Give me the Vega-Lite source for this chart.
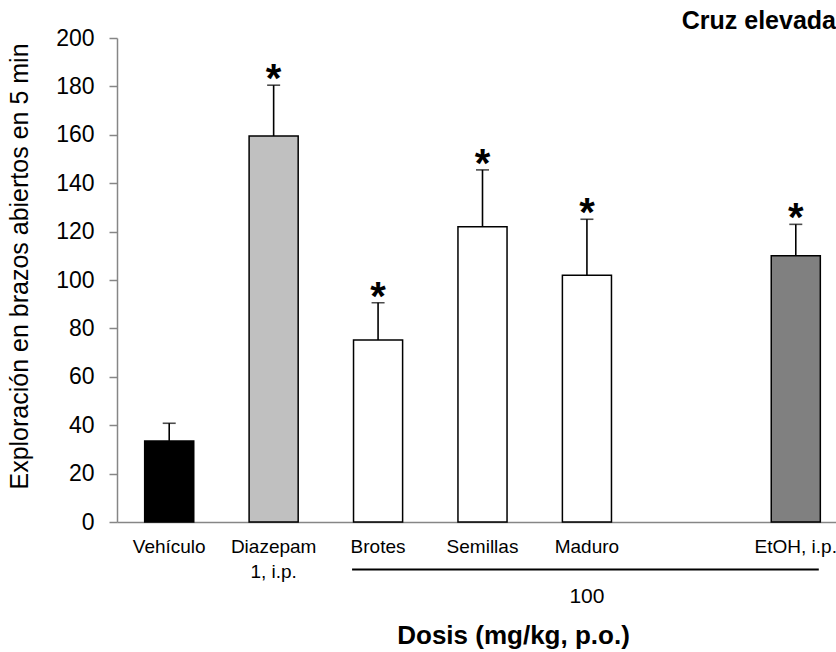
{
  "$schema": "https://vega.github.io/schema/vega-lite/v6.json",
  "autosize": {"type": "none"},
  "padding": {"left": 117, "top": 38, "right": 0, "bottom": 130},
  "width": 719,
  "height": 484,
  "background": "white",
  "config": {
    "view": {"stroke": null},
    "font": "Liberation Sans",
    "axis": {"labelFont": "Liberation Sans", "titleFont": "Liberation Sans", "labelColor": "black", "titleColor": "black", "grid": false}
  },
  "title": {"text": "Cruz elevada", "anchor": "end", "frame": "group", "fontSize": 25, "fontWeight": "bold", "font": "Liberation Sans", "color": "black", "baseline": "alphabetic", "offset": -27},
  "data": {"values": [
    {"g": "Vehículo", "v": 33.5, "hi": 40.8, "sig": ""},
    {"g": "Diazepam", "v": 159.5, "hi": 180.5, "sig": "*"},
    {"g": "Brotes", "v": 75.2, "hi": 90.6, "sig": "*"},
    {"g": "Semillas", "v": 122, "hi": 145.5, "sig": "*"},
    {"g": "Maduro", "v": 102, "hi": 125.1, "sig": "*"},
    {"g": "EtOH, i.p.", "v": 110, "hi": 123, "sig": "*"}
  ]},
  "encoding": {
    "x": {
      "field": "g", "type": "nominal",
      "scale": {"domain": ["Vehículo", "Diazepam", "Brotes", "Semillas", "Maduro", " ", "EtOH, i.p."], "range": [0, 731], "paddingInner": 0.53, "paddingOuter": 0.265},
      "axis": {
        "labelAngle": 0, "ticks": false, "tickSize": 0, "domainColor": "#868686", "domainWidth": 1.5,
        "labelFontSize": 19, "labelBaseline": "alphabetic", "labelPadding": 30, "labelLineHeight": 25,
        "labelExpr": "datum.value == 'Diazepam' ? ['Diazepam', '1, i.p.'] : datum.value",
        "title": "Dosis (mg/kg, p.o.)", "titleFontSize": 26, "titleFontWeight": "bold",
        "titleX": 396, "titleY": 121, "titleBaseline": "alphabetic", "titleAlign": "center"
      }
    },
    "y": {
      "type": "quantitative",
      "scale": {"domain": [0, 200], "nice": false, "zero": true},
      "axis": {
        "values": [0, 20, 40, 60, 80, 100, 120, 140, 160, 180, 200],
        "domainColor": "#868686", "domainWidth": 1.5, "tickColor": "#868686", "tickWidth": 1.5, "tickSize": 8,
        "labelFontSize": 23, "labelPadding": 15,
        "title": "Exploración en brazos abiertos en 5 min", "titleFontSize": 25, "titleFontWeight": "normal",
        "titleX": -90, "titleY": 228, "titleBaseline": "alphabetic", "titleAlign": "center", "titleAngle": -90
      }
    }
  },
  "layer": [
    {
      "mark": {"type": "rule", "color": "black", "strokeWidth": 1.6},
      "encoding": {"y": {"field": "v"}, "y2": {"field": "hi"}}
    },
    {
      "mark": {"type": "tick", "color": "black", "thickness": 1.6, "size": 13},
      "encoding": {"y": {"field": "hi"}}
    },
    {
      "mark": {"type": "bar", "stroke": "black", "strokeWidth": 1.5},
      "encoding": {
        "y": {"field": "v"},
        "fill": {"field": "g", "type": "nominal", "legend": null,
          "scale": {"domain": ["Vehículo", "Diazepam", "Brotes", "Semillas", "Maduro", "EtOH, i.p."], "range": ["#000000", "#C0C0C0", "#FFFFFF", "#FFFFFF", "#FFFFFF", "#808080"]}}
      }
    },
    {
      "mark": {"type": "text", "fontSize": 40, "fontWeight": "bold", "baseline": "alphabetic", "dy": 7, "color": "black"},
      "encoding": {"y": {"field": "hi"}, "text": {"field": "sig"}}
    },
    {
      "data": {"values": [{}]},
      "mark": {"type": "rule", "color": "black", "strokeWidth": 2, "xOffset": -26, "x2Offset": 23},
      "encoding": {
        "x": {"datum": "Brotes"},
        "x2": {"datum": "EtOH, i.p."},
        "y": {"datum": -19.6}
      }
    },
    {
      "data": {"values": [{"lab": "100"}]},
      "mark": {"type": "text", "fontSize": 21, "baseline": "middle", "color": "black"},
      "encoding": {
        "x": {"datum": "Maduro"},
        "y": {"datum": -31},
        "text": {"field": "lab"}
      }
    }
  ]
}
